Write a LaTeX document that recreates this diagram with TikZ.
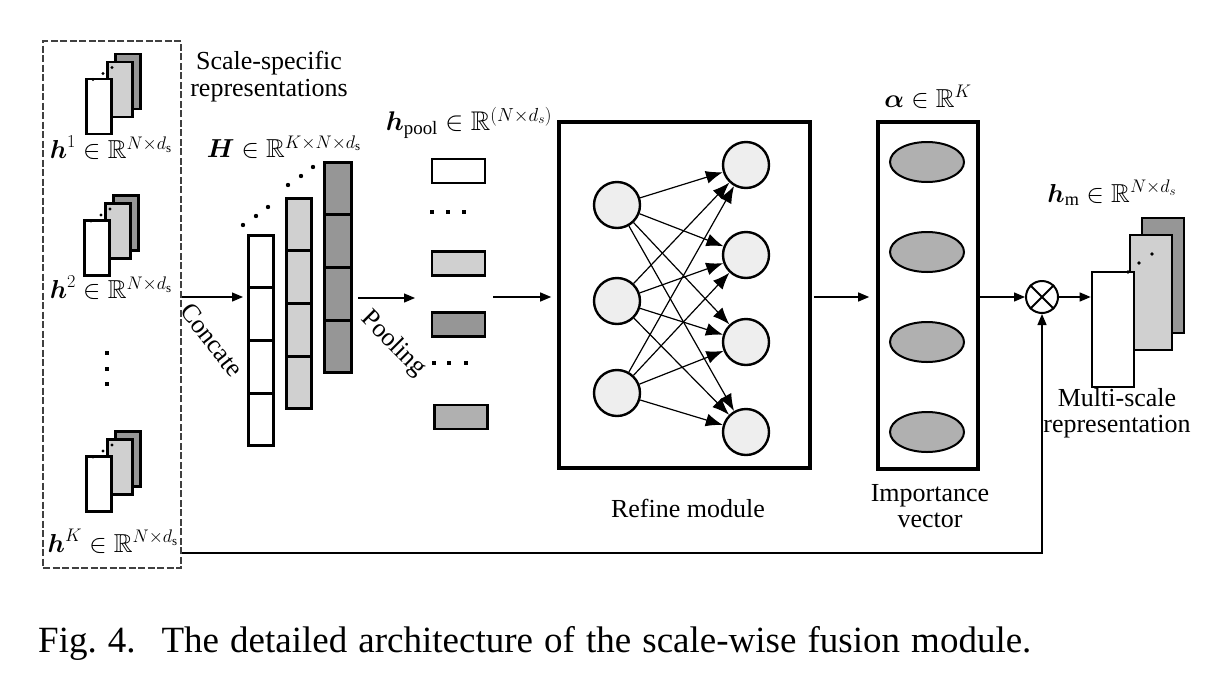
\documentclass[tikz,border=0pt]{standalone}
\usepackage{fix-cm}
\usepackage{amsmath,amssymb}
\usepackage{fontspec}
\setmainfont{Liberation Serif}
\usetikzlibrary{arrows.meta,calc,shapes.geometric}
\definecolor{lgray}{HTML}{D0D0D0}
\definecolor{dgray}{HTML}{969696}
\definecolor{mgray}{HTML}{B0B0B0}
\definecolor{ngray}{HTML}{EEEEEE}
\definecolor{dashc}{HTML}{404040}
\newcommand\smallstack[3]{%
  \node[card, fill=dgray] (#1c) at (#2+29,#3-25) {};
  \node[card, fill=lgray] (#1b) at (#2+21,#3-17) {};
  \node[card, fill=white] (#1a) at (#2,#3) {};
  \fill (#2-6,#3-27) circle (1.6) (#2+4,#3-33) circle (1.6) (#2+13,#3-39) circle (1.6);
}
\newcommand\sqdot[2]{\fill (#1-2.2,#2-2.2) rectangle (#1+2.2,#2+2.2);}
\begin{document}
\begin{tikzpicture}[x=1pt,y=-1pt,
  font=\fontsize{26}{29}\selectfont,
  card/.style={draw, line width=2.4pt, minimum width=25pt, minimum height=55pt, inner sep=0pt},
  bigcard/.style={draw, line width=2.6pt, minimum width=42pt, minimum height=115pt, inner sep=0pt},
  colbox/.style={draw, line width=2.4pt, minimum width=25pt, minimum height=210pt, inner sep=0pt},
  poolbox/.style={draw, line width=2.4pt, minimum width=53pt, minimum height=24pt, inner sep=0pt},
  neuron/.style={circle, draw, line width=2.4pt, fill=ngray, minimum size=46pt, inner sep=0pt},
  wgt/.style={ellipse, draw, line width=2pt, fill=mgray, minimum width=74pt, minimum height=40pt, inner sep=0pt},
  arr/.style={-{Triangle[length=11pt,width=9pt]}, line width=1.3pt},
  nn/.style={-{Latex[length=17pt,width=13pt]}, line width=1.2pt},
  lbl/.style={inner sep=0pt}
]
\useasboundingbox (0,0) rectangle (1210,678);

% dashed group
\node[draw=dashc, line width=2.2pt, dash pattern=on 7pt off 2.5pt, minimum width=138pt, minimum height=527pt, inner sep=0pt] (grp) at (112,304.5) {};

% small stacks
\smallstack{sa}{99}{106.5}
\smallstack{sb}{97}{248}
\smallstack{sk}{99}{484}
\sqdot{107}{353}\sqdot{107}{369}\sqdot{107}{384}

\node[lbl] (lh1) at (111,148) {$\boldsymbol{h}^1 \in \mathbb{R}^{N\times d_\mathrm{s}}$};
\node[lbl] (lh2) at (111,288) {$\boldsymbol{h}^2 \in \mathbb{R}^{N\times d_\mathrm{s}}$};
\node[lbl] (lhk) at (113,541) {$\boldsymbol{h}^K \in \mathbb{R}^{N\times d_\mathrm{s}}$};

\node[lbl, align=center] (sst) at (269,77) {Scale-specific\\[-2pt]representations};

% H columns
\node[colbox, fill=white] (cw) at (261,340.5) {};
\node[colbox, fill=lgray] (cl) at (299,303.5) {};
\node[colbox, fill=dgray, minimum width=27pt] (cd) at (338,267.5) {};
\foreach \c in {cw,cl,cd}{
  \foreach \f in {0.25,0.5,0.75}{
    \draw[line width=2.4pt] ($(\c.north west)!\f!(\c.south west)$) -- ($(\c.north east)!\f!(\c.south east)$);
  }
}
\foreach \p in {(243,225),(256,216),(268,207),(288,185),(301,176),(313,167)}{\fill \p circle (2.2);}
\node[lbl] (lH) at (284,147) {$\boldsymbol{H} \in \mathbb{R}^{K\times N\times d_\mathrm{s}}$};

\coordinate (a1s) at (grp.east |- 0,297);
\coordinate (a1e) at (243,297);
\draw[arr] (a1s) -- (a1e);
\node[lbl, rotate=-52] (conc) at (212,340) {Concate};

\coordinate (a2s) at (358,298);
\coordinate (a2e) at (415,298);
\draw[arr] (a2s) -- (a2e);
\node[lbl, rotate=-45] (pool) at (393,344) {Pooling};

% pooled vectors
\node[poolbox, fill=white] (p1) at (458.5,171) {};
\node[poolbox, fill=lgray] (p2) at (458.5,263.5) {};
\node[poolbox, fill=dgray] (p3) at (458.5,324.5) {};
\node[poolbox, fill=mgray] (p4) at (461,417) {};
\sqdot{432}{212}\sqdot{448}{212}\sqdot{464}{212}
\sqdot{434}{363}\sqdot{449}{363}\sqdot{466}{363}
\node[lbl, font=\fontsize{27}{29}\selectfont] (lpool) at (469,123) {$\boldsymbol{h}_{\mathrm{pool}} \in \mathbb{R}^{(N\times d_s)}$};

% refine module
\node[draw, line width=3.6pt, minimum width=251pt, minimum height=346pt, inner sep=0pt] (ref) at (684.5,295) {};
\coordinate (a3s) at (493,297);
\draw[arr, shorten >=6pt] (a3s) -- (ref.west |- a3s);
\node[neuron] (i1) at (617,205) {};
\node[neuron] (i2) at (617,301) {};
\node[neuron] (i3) at (617,393) {};
\node[neuron] (o1) at (746,165) {};
\node[neuron] (o2) at (746,255) {};
\node[neuron] (o3) at (746,342) {};
\node[neuron] (o4) at (746,432) {};
\foreach \i in {i1,i2,i3}{\foreach \o in {o1,o2,o3,o4}{\draw[nn] (\i) -- (\o);}}
\node[lbl] (lref) at (688,508) {Refine module};

% importance vector
\node[draw, line width=3.6pt, minimum width=100pt, minimum height=347pt, inner sep=0pt] (imp) at (928,295.5) {};
\node[wgt] (e1) at (927,162) {};
\node[wgt] (e2) at (927,252) {};
\node[wgt] (e3) at (927,342) {};
\node[wgt] (e4) at (927,432) {};
\node[lbl] (lalpha) at (928,97) {$\boldsymbol{\alpha} \in \mathbb{R}^K$};
\node[lbl, align=center] (limp) at (930,506) {Importance\\[-3pt]vector};
\draw[arr, shorten <=2pt, shorten >=7pt] (ref.east |- 0,297) -- (imp.west |- 0,297);

% otimes
\node[circle, draw, line width=2pt, minimum size=32pt, inner sep=0pt] (ot) at (1042,297) {};
\draw[line width=2pt] (ot.north west) -- (ot.south east) (ot.north east) -- (ot.south west);
\draw[arr] (imp.east |- ot) -- (ot.west);

% multi-scale stack
\node[bigcard, fill=dgray] (mc) at (1163,275.5) {};
\node[bigcard, fill=lgray] (mb) at (1151,292.5) {};
\node[bigcard, fill=white] (ma) at (1113,329.5) {};
\foreach \p in {(1128,272),(1139,263),(1152,254)}{\fill \p circle (1.8);}
\draw[arr] (ot.east) -- (ma.west |- ot);
\node[lbl] (lhm) at (1112,193) {$\boldsymbol{h}_\mathrm{m} \in \mathbb{R}^{N\times d_s}$};
\node[lbl, align=center] (lms) at (1117,413) {Multi-scale\\[-3pt]representation};

% feedback
\coordinate (fb) at (grp.east |- 0,553);
\draw[arr] (fb) -| (ot.south);

% caption
\node[lbl, anchor=base west, font=\fontsize{37}{40}\selectfont] (cap) at (38,652) {\spaceskip=0.3em plus 0.1em\relax Fig.~4.\hspace{0.7em}The detailed architecture of the scale-wise fusion module.};
\end{tikzpicture}
\end{document}
